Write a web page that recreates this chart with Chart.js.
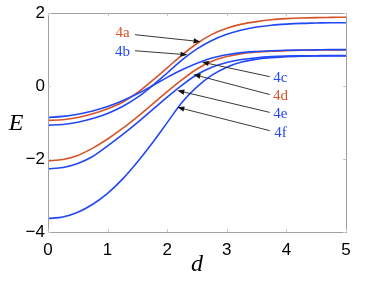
<!DOCTYPE html>
<html>
<head>
<meta charset="utf-8">
<script src="https://cdn.jsdelivr.net/npm/chart.js@4.4.1/dist/chart.umd.min.js"></script>
<style>
  html, body { margin: 0; padding: 0; background: #fff; }
  #wrap { width: 382px; height: 283px; }
</style>
</head>
<body>
<div id="wrap"><canvas id="myChart" width="382" height="283"></canvas></div>
<script>
// separation d (x axis)
const dValues = [0, 0.25, 0.5, 0.75, 1, 1.25, 1.5, 1.75, 2, 2.25, 2.5, 2.75, 3, 3.25, 3.5, 3.75, 4, 4.25, 4.5, 4.75, 5];

// energy curves E(d)
const e4a = [-0.94, -0.92, -0.86, -0.76, -0.62, -0.44, -0.18, 0.15, 0.50, 0.86, 1.17, 1.42, 1.59, 1.70, 1.77, 1.82, 1.85, 1.87, 1.88, 1.885, 1.89];
const e4b = [-1.07, -1.05, -0.99, -0.89, -0.75, -0.56, -0.31, 0.01, 0.36, 0.72, 1.02, 1.25, 1.42, 1.54, 1.62, 1.67, 1.70, 1.72, 1.73, 1.74, 1.74];
const e4c = [-0.86, -0.83, -0.77, -0.68, -0.56, -0.40, -0.21, 0.01, 0.24, 0.45, 0.63, 0.77, 0.86, 0.92, 0.95, 0.97, 0.985, 0.99, 0.995, 1.0, 1.0];
const e4d = [-2.05, -2.01, -1.90, -1.70, -1.45, -1.16, -0.84, -0.50, -0.15, 0.18, 0.47, 0.68, 0.81, 0.89, 0.935, 0.96, 0.975, 0.985, 0.99, 0.995, 0.995];
const e4e = [-2.27, -2.23, -2.12, -1.93, -1.64, -1.33, -1.00, -0.65, -0.30, 0.03, 0.32, 0.52, 0.65, 0.73, 0.78, 0.81, 0.825, 0.83, 0.835, 0.84, 0.84];
const e4f = [-3.63, -3.59, -3.46, -3.24, -2.94, -2.55, -2.08, -1.56, -1.00, -0.44, -0.02, 0.30, 0.52, 0.66, 0.74, 0.78, 0.81, 0.82, 0.83, 0.83, 0.83];

const seriesNames = ['4a', '4b', '4c', '4d', '4e', '4f'];
const xTicks = [0, 1, 2, 3, 4, 5];
const yTicks = [-4, -2, 0, 2];

const RED = 'rgb(214,84,41)';
const BLUE = 'rgb(35,72,245)';
const seriesColors = [RED, BLUE, BLUE, RED, BLUE, BLUE];
const drawOrder = [3, 2, 0, 4, 1, 1];

// label text position, arrow tail and arrow tip (data units)
const notes = [
  { lx: 1.25, ly: 1.46, tx: 1.46, ty: 1.41, hx: 2.56, hy: 1.22 },
  { lx: 1.25, ly: 0.94, tx: 1.46, ty: 0.97, hx: 2.34, hy: 0.86 },
  { lx: 3.90, ly: 0.21, tx: 3.72, ty: 0.26, hx: 2.58, hy: 0.66 },
  { lx: 3.90, ly: -0.28, tx: 3.72, ty: -0.23, hx: 2.44, hy: 0.32 },
  { lx: 3.90, ly: -0.77, tx: 3.72, ty: -0.72, hx: 2.17, hy: -0.12 },
  { lx: 3.90, ly: -1.29, tx: 3.72, ty: -1.22, hx: 2.17, hy: -0.58 }
];

const allSeries = [e4a, e4b, e4c, e4d, e4e, e4f];

const datasets = allSeries.map((vals, i) => ({
  label: seriesNames[i],
  data: dValues.map((d, j) => ({ x: d, y: vals[j] })),
  borderColor: seriesColors[i],
  borderWidth: 1.6,
  pointRadius: 0,
  cubicInterpolationMode: 'monotone',
  fill: false,
  order: drawOrder[i]
}));

const frameAndNotes = {
  id: 'frameAndNotes',
  afterDraw(chart) {
    const ctx = chart.ctx;
    const a = chart.chartArea;
    const xs = chart.scales.x, ys = chart.scales.y;
    ctx.save();
    // box
    ctx.strokeStyle = '#a0a0a0';
    ctx.lineWidth = 1;
    ctx.strokeRect(Math.round(a.left) + 0.5, Math.round(a.top) + 0.5,
      Math.round(a.right - a.left), Math.round(a.bottom - a.top));
    // inward ticks
    ctx.strokeStyle = '#c8c8c8';
    ctx.beginPath();
    xTicks.forEach(v => {
      const p = Math.round(xs.getPixelForValue(v)) + 0.5;
      ctx.moveTo(p, a.bottom); ctx.lineTo(p, a.bottom - 3);
      ctx.moveTo(p, a.top); ctx.lineTo(p, a.top + 3);
    });
    yTicks.forEach(v => {
      const p = Math.round(ys.getPixelForValue(v)) + 0.5;
      ctx.moveTo(a.left, p); ctx.lineTo(a.left + 3, p);
      ctx.moveTo(a.right, p); ctx.lineTo(a.right - 3, p);
    });
    ctx.stroke();

    // axis titles
    ctx.fillStyle = '#000';
    ctx.font = 'italic 24px "Liberation Serif"';
    ctx.textAlign = 'center';
    ctx.textBaseline = 'middle';
    ctx.fillText('E', 16, 124);
    ctx.fillText('d', (a.left + a.right) / 2, 265);

    // labels and arrows
    ctx.font = '15px "Liberation Serif"';
    notes.forEach((n, i) => {
      const lx = xs.getPixelForValue(n.lx), ly = ys.getPixelForValue(n.ly);
      const tx = xs.getPixelForValue(n.tx), ty = ys.getPixelForValue(n.ty);
      const hx = xs.getPixelForValue(n.hx), hy = ys.getPixelForValue(n.hy);
      ctx.fillStyle = seriesColors[i];
      ctx.fillText(seriesNames[i], lx, ly);
      const ang = Math.atan2(hy - ty, hx - tx);
      const len = 7, half = 2.6;
      const bx = hx - len * Math.cos(ang), by = hy - len * Math.sin(ang);
      ctx.strokeStyle = '#222';
      ctx.lineWidth = 0.9;
      ctx.beginPath();
      ctx.moveTo(tx, ty); ctx.lineTo(bx, by);
      ctx.stroke();
      ctx.fillStyle = '#111';
      ctx.beginPath();
      ctx.moveTo(hx, hy);
      ctx.lineTo(bx + half * Math.sin(ang), by - half * Math.cos(ang));
      ctx.lineTo(bx - half * Math.sin(ang), by + half * Math.cos(ang));
      ctx.closePath();
      ctx.fill();
    });
    ctx.restore();
  }
};

const ctx = document.getElementById('myChart').getContext('2d');
new Chart(ctx, {
  type: 'line',
  data: { datasets: datasets },
  options: {
    responsive: false,
    animation: false,
    devicePixelRatio: 1,
    layout: { padding: { left: 0, right: 36, top: 11, bottom: 0 } },
    plugins: { legend: { display: false }, tooltip: { enabled: false } },
    scales: {
      x: {
        type: 'linear',
        min: 0, max: 5,
        afterBuildTicks: s => { s.ticks = xTicks.map(v => ({ value: v })); },
        afterFit: s => { s.height = 51; },
        grid: { display: false, drawTicks: false },
        border: { display: false },
        ticks: { color: '#000', font: { family: '"Liberation Sans"', size: 17 }, padding: 8, maxRotation: 0 }
      },
      y: {
        type: 'linear',
        min: -4, max: 2,
        afterBuildTicks: s => { s.ticks = yTicks.map(v => ({ value: v })); },
        afterFit: s => { s.width = 48; },
        grid: { display: false, drawTicks: false },
        border: { display: false },
        ticks: {
          color: '#000', font: { family: '"Liberation Sans"', size: 17 }, padding: 3,
          callback: v => (v < 0 ? '\u2212' + Math.abs(v) : String(v))
        }
      }
    }
  },
  plugins: [frameAndNotes]
});
</script>
</body>
</html>
